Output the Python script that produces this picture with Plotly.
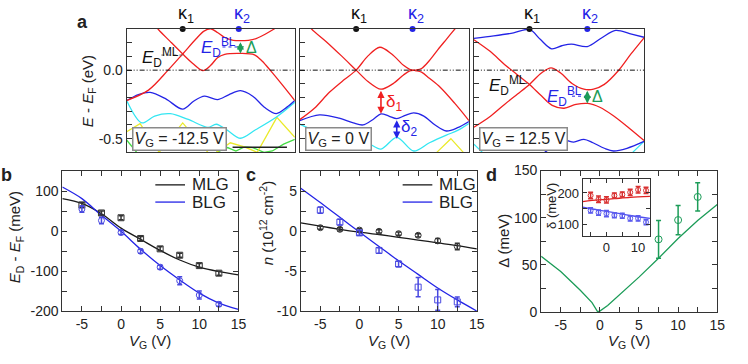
import plotly.graph_objects as go

# ====================== DATA ======================
# Panel a: band structures along the k-path (kappa1 at k=1, kappa2 at k=2), energy E-EF in eV
vg_texts = ["-12.5", "0", "12.5"]

# --- VG = -12.5 V ---
a1_r1_k = [0, 0.39, 0.74, 1.0, 1.24, 1.38, 1.50, 1.62, 1.75, 1.90, 2.03, 2.17, 2.32, 2.47, 2.63, 2.78]
a1_r1_E = [-0.222, -0.146, 0.0, 0.118, 0.229, 0.285, 0.302, 0.275, 0.238, 0.218, 0.215, 0.218, 0.232, 0.262, 0.30, 0.34]
a1_r2_k = [0.49, 0.56, 0.78, 1.0, 1.18, 1.36, 1.50, 1.62, 1.75, 2.03, 2.28, 2.42, 2.56, 2.77, 3.0]
a1_r2_E = [0.34, 0.30, 0.208, 0.118, 0.049, -0.003, 0.035, 0.09, 0.115, 0.122, 0.112, 0.065, 0.0, -0.104, -0.222]
a1_b_k = [0, 0.21, 0.42, 0.70, 1.0, 1.20, 1.39, 1.62, 1.82, 2.03, 2.25, 2.47, 2.67, 2.86, 3.0]
a1_b_E = [-0.222, -0.178, -0.162, -0.21, -0.285, -0.225, -0.19, -0.215, -0.18, -0.15, -0.19, -0.275, -0.317, -0.27, -0.222]
a1_c_k = [0, 0.27, 0.5, 0.78, 1.1, 1.45, 1.6, 1.8, 2.03, 2.3, 2.68, 3.0]
a1_c_E = [-0.222, -0.385, -0.335, -0.318, -0.36, -0.417, -0.395, -0.44, -0.497, -0.435, -0.34, -0.235]
a1_y_k = [0, 0.24, 0.58, 1.0, 1.45, None, 1.6, 1.85, 2.1, 2.33, 2.68, 3.0]
a1_y_E = [-0.45, -0.39, -0.60, -0.385, -0.60, None, -0.60, -0.53, -0.56, -0.60, -0.345, -0.49]
a1_g_k = [0, 0.18, None, 1.6, 1.8, 1.95, 2.1, 2.25, 2.45, 2.6, 2.8, 3.0]
a1_g_E = [-0.51, -0.60, None, -0.60, -0.565, -0.59, -0.56, -0.565, -0.60, -0.59, -0.54, -0.505]
a1_bar_k = [1.89, 2.86]
a1_bar_E = [-0.5625, -0.5625]

# --- VG = 0 V ---
a2_r1_k = [0.14, 0.21, 0.47, 0.74, 1.0, 1.21, 1.44, 1.65, 1.84, 1.95, 2.05, 2.16, 2.3, 2.45, 2.6, 2.75, 2.84]
a2_r1_E = [0.34, 0.30, 0.208, 0.104, 0.0, -0.083, -0.139, -0.10, -0.035, -0.006, 0.0, 0.012, 0.07, 0.15, 0.225, 0.30, 0.345]
a2_r2_k = [0, 0.26, 0.53, 0.79, 1.0, 1.21, 1.42, 1.63, 1.84, 1.95, 2.05, 2.16, 2.3, 2.49, 2.75, 3.0]
a2_r2_E = [-0.361, -0.278, -0.16, -0.069, 0.0, 0.104, 0.167, 0.118, 0.035, 0.006, -0.003, -0.015, -0.06, -0.125, -0.243, -0.368]
a2_b_k = [0, 0.35, 0.70, 0.95, 1.12, 1.30, 1.44, 1.58, 1.72, 1.87, 2.02, 2.2, 2.4, 2.6, 2.8, 3.0]
a2_b_E = [-0.368, -0.326, -0.35, -0.385, -0.40, -0.36, -0.319, -0.335, -0.354, -0.33, -0.3125, -0.335, -0.40, -0.444, -0.42, -0.375]
a2_c_k = [0, 0.25, 0.6, 1.0, 1.2, 1.44, 1.72, 2.02, 2.3, 2.6, 2.8, 3.0]
a2_c_E = [-0.394, -0.44, -0.48, -0.51, -0.53, -0.576, -0.49, -0.59, -0.53, -0.474, -0.44, -0.39]
a2_y_k = [2.43, 2.68, 2.9]
a2_y_E = [-0.60, -0.50, -0.60]

# --- VG = 12.5 V ---
a3_bt_k = [0, 0.35, 0.7, 0.98, 1.17, 1.37, 1.55, 1.72, 2.0, 2.25, 2.5, 2.78, 3.0]
a3_bt_E = [0.232, 0.25, 0.272, 0.297, 0.225, 0.156, 0.178, 0.19, 0.172, 0.235, 0.29, 0.262, 0.24]
a3_r1_k = [0, 0.28, 0.54, 0.77, 0.98, 1.19, 1.38, 1.59, 1.80, 2.01, 2.22, 2.46, 2.74, 3.0]
a3_r1_E = [0.222, 0.139, 0.042, -0.035, -0.104, -0.1875, -0.257, -0.278, -0.25, -0.243, -0.271, -0.333, -0.424, -0.514]
a3_r2_k = [0, 0.28, 0.54, 0.77, 0.98, 1.19, 1.36, 1.53, 1.73, 1.94, 2.11, 2.30, 2.55, 2.77, 3.0]
a3_r2_E = [-0.417, -0.340, -0.25, -0.174, -0.104, -0.021, 0.017, -0.021, -0.097, -0.139, -0.139, -0.104, -0.003, 0.118, 0.236]
a3_bl_k = [1.25, 1.45, 1.59, 1.76, 1.94, 2.1, 2.3, 2.46, 2.7, 3.0]
a3_bl_E = [-0.60, -0.54, -0.51, -0.525, -0.505, -0.53, -0.57, -0.59, -0.57, -0.52]
a3_c_k = [0, 0.15, None, 2.8, 3.0]
a3_c_E = [-0.54, -0.60, None, -0.60, -0.52]

# Dirac-point guide lines (k range, energy)
a1_edml_k, a1_edml_E = [0.62, 1.0], [0.11, 0.11]
a1_edbl_k, a1_edbl_E = [1.71, 2.03], [0.169, 0.169]
a3_edml_k, a3_edml_E = [0.68, 0.98], [-0.097, -0.097]
a3_edbl_k, a3_edbl_E = [1.73, 2.0], [-0.19, -0.19]

# gaps: (k, E_top, E_bottom)
a1_gap = [2.03, 0.215, 0.122]
a2_gap1 = [1.44, -0.139, -0.319]
a2_gap2 = [1.72, -0.355, -0.50]
a3_gap = [2.0, -0.139, -0.243]

# Panel b / c : gate voltage, measured and model
vg_pts = [-5, -2.5, 0, 2.5, 5, 7.5, 10, 12.5]
vg_fit = [-7.5, -5, -2.5, 0, 2.5, 5, 7.5, 10, 12.5, 15]

b_mlg = [66, 46, 34, -18, -44, -60, -86, -105]
b_mlg_err = [6, 5, 5, 5, 5, 5, 5, 5]
b_blg = [56, 27, -3, -50, -90, -124, -160, -183]
b_blg_err = [8, 8, 5, 5, 5, 10, 10, 5]
b_mlg_fit = [82, 70, 44, 8, -20, -48, -72, -90, -101, -109]
b_blg_fit = [111, 82, 40, 0, -45, -86, -122, -155, -180, -196]

c_mlg = [0.45, 0.25, 0.15, 0.0, -0.3, -0.5, -1.2, -1.9]
c_mlg_err = [0.2, 0.2, 0.2, 0.2, 0.2, 0.2, 0.3, 0.4]
c_blg = [2.65, 1.15, -0.2, -2.4, -4.1, -7.0, -8.6, -8.85]
c_blg_err = [0.4, 0.35, 0.3, 0.35, 0.35, 1.2, 1.3, 0.6]
c_mlg_fit = [1.05, 0.65, 0.25, -0.1, -0.4, -0.75, -1.1, -1.45, -1.8, -2.2]
c_blg_fit = [5.4, 3.6, 1.75, -0.1, -1.9, -3.7, -5.4, -7.1, -8.6, -10.0]

# Panel d: gap Delta
d_fit_x = [-7.5, -5, -2.5, -1, -0.3, 0, 1, 2.5, 5, 7.5, 10, 12.5, 15]
d_fit = [59, 43, 23, 10, 0.5, 1, 7, 18, 37, 57, 78, 97, 114]
d_pts_x = [7.5, 10, 12.5]
d_pts = [77, 97.5, 122]
d_pts_err = [20, 15.5, 15]

# Inset: delta1 (red), delta2 (blue)
in_fit_x = [-7.5, -2.5, 2.5, 7.5, 13.75]
in_d1 = [192, 180, 178, 192, 195, 202, 210, 208]
in_d1_err = [10, 10, 10, 8, 8, 10, 10, 10]
in_d2 = [145, 138, 135, 130, 128, 120, 120, 108]
in_d2_err = [8, 8, 10, 8, 8, 8, 8, 8]
in_d1_fit = [173, 178, 182, 186, 189]
in_d2_fit = [155, 146, 138, 129, 120]

# tick labels (plain hyphen minus as in the reference)
vg_ticks = [-5, 0, 5, 10, 15]
b_ticks = [-200, -100, 0, 100]
c_ticks = [-10, -5, 0, 5]
d_ticks = [0, 50, 100, 150]
in_xticks = [0, 10]
in_yticks = [100, 200]
a_ticks = [0.0, -0.5]

# ====================== STYLE ======================
FONT = "Liberation Sans, Arial, Helvetica, sans-serif"
RED = "#f02020"
BLUE = "#2424e6"
CYAN = "#33e6f2"
YELLOW = "#eaea2a"
GREEN = "#44dd44"
DGREEN = "#1c9c58"
AX = "#333333"
W, H = 748, 364

def px(x):
    return x / W

def py(y):
    return 1 - y / H

def lbl(v, fmt="{:g}"):
    return [fmt.format(t) for t in v]

fig = go.Figure()

def line(k, E, color, n, width=1.3, shape="spline", dash=None):
    fig.add_trace(go.Scatter(
        x=k, y=E, mode="lines", xaxis=f"x{n}" if n > 1 else "x", yaxis=f"y{n}" if n > 1 else "y",
        line=dict(color=color, width=width, shape=shape, smoothing=0.9, dash=dash),
        showlegend=False, hoverinfo="skip", connectgaps=False))

# panel a traces (draw lower bands first)
line(a1_g_k, a1_g_E, GREEN, 1, shape="linear")
line(a1_y_k, a1_y_E, YELLOW, 1, shape="linear")
line(a1_c_k, a1_c_E, CYAN, 1)
line(a1_b_k, a1_b_E, BLUE, 1)
line(a1_r1_k, a1_r1_E, RED, 1)
line(a1_r2_k, a1_r2_E, RED, 1)
line(a1_bar_k, a1_bar_E, "#222222", 1, width=1.6, shape="linear")

line(a2_y_k, a2_y_E, YELLOW, 2, shape="linear")
line(a2_c_k, a2_c_E, CYAN, 2)
line(a2_b_k, a2_b_E, BLUE, 2)
line(a2_r1_k, a2_r1_E, RED, 2)
line(a2_r2_k, a2_r2_E, RED, 2)

line(a3_c_k, a3_c_E, CYAN, 3, shape="linear")
line(a3_bl_k, a3_bl_E, BLUE, 3)
line(a3_bt_k, a3_bt_E, BLUE, 3)
line(a3_r1_k, a3_r1_E, RED, 3)
line(a3_r2_k, a3_r2_E, RED, 3)

line(a1_edml_k, a1_edml_E, "#666666", 1, width=1, shape="linear", dash="dot")
line(a1_edbl_k, a1_edbl_E, BLUE, 1, width=1, shape="linear", dash="dot")
line(a3_edml_k, a3_edml_E, "#666666", 3, width=1, shape="linear", dash="dot")
line(a3_edbl_k, a3_edbl_E, BLUE, 3, width=1, shape="linear", dash="dot")

# kappa markers
for n in (1, 2, 3):
    kk = [0.98, 2.0] if n == 3 else [1.0, 2.0]
    fig.add_trace(go.Scatter(x=kk, y=[0.3, 0.3], mode="markers", cliponaxis=False,
                             xaxis=f"x{n}" if n > 1 else "x", yaxis=f"y{n}" if n > 1 else "y",
                             marker=dict(color=["#111111", BLUE], size=6), showlegend=False, hoverinfo="skip"))

def pts(x, y, err, color, symbol, n, size=6):
    fig.add_trace(go.Scatter(x=x, y=y, mode="markers", xaxis=f"x{n}", yaxis=f"y{n}",
                             error_y=dict(type="data", array=err, color=color, thickness=1.5, width=2.5),
                             marker=dict(symbol=symbol, size=size, color=color, line=dict(width=1, color=color)),
                             showlegend=False, hoverinfo="skip", cliponaxis=False))

line(vg_fit, b_mlg_fit, "#1a1a1a", 4, width=1.3)
line(vg_fit, b_blg_fit, BLUE, 4, width=1.3)
pts(vg_pts, b_mlg, b_mlg_err, "#333333", "square-open", 4)
pts(vg_pts, b_blg, b_blg_err, "#4848e0", "circle-open", 4)

line(vg_fit, c_mlg_fit, "#1a1a1a", 5, width=1.3)
line(vg_fit, c_blg_fit, BLUE, 5, width=1.3)
pts(vg_pts, c_mlg, c_mlg_err, "#333333", "circle-open", 5)
pts(vg_pts, c_blg, c_blg_err, "#4848e0", "square-open", 5)

line(d_fit_x, d_fit, DGREEN, 6, width=1.3, shape="linear")
pts(d_pts_x, d_pts, d_pts_err, DGREEN, "circle-open", 6, size=7)

line(in_fit_x, in_d1_fit, "#e02020", 7, width=1.3)
line(in_fit_x, in_d2_fit, "#5050f0", 7, width=1.3)
pts(vg_pts, in_d1, in_d1_err, "#d83030", "circle-open", 7, size=5)
pts(vg_pts, in_d2, in_d2_err, "#5a5aee", "circle-open", 7, size=5)

# ====================== AXES ======================
base = dict(showgrid=False, zeroline=False, showline=True, linecolor=AX, linewidth=1,
            tickfont=dict(family=FONT, size=14, color="#222"), ticklen=5, tickcolor=AX)

def minor(dt, ln=5):
    return dict(dtick=dt, tick0=0, ticks="inside", ticklen=ln, tickcolor=AX)

a_x = [(128, 298), (303, 474), (479, 651)]
layout = {}
for i, (l, r) in enumerate(a_x):
    n = "" if i == 0 else str(i + 1)
    layout[f"xaxis{n}"] = dict(base, domain=[px(l), px(r)], range=[0, 3], showticklabels=False,
                               ticks="", mirror=True, anchor=f"y{n}")
    layout[f"yaxis{n}"] = dict(base, domain=[py(151), py(22)], range=[-0.6, 0.3], mirror=True,
                               anchor=f"x{n}", tickmode="array", tickvals=a_ticks,
                               ticktext=lbl(a_ticks, "{:.1f}"), showticklabels=(i == 0), ticks="inside",
                               minor=minor(0.1))

vg_axis = dict(base, range=[-7.5, 15], tickmode="array", tickvals=vg_ticks, ticktext=lbl(vg_ticks),
               ticks="inside", mirror="ticks", minor=minor(2.5))
layout["xaxis4"] = dict(vg_axis, domain=[px(63), px(241)], anchor="y4")
layout["yaxis4"] = dict(base, domain=[py(317), py(171)], range=[-200, 150], tickmode="array",
                        tickvals=b_ticks, ticktext=lbl(b_ticks),
                        ticks="inside", mirror="ticks", anchor="x4", minor=minor(50))
layout["xaxis5"] = dict(vg_axis, domain=[px(304), px(482)], anchor="y5")
layout["yaxis5"] = dict(base, domain=[py(317), py(171)], range=[-10, 7.5], tickmode="array",
                        tickvals=c_ticks, ticktext=lbl(c_ticks),
                        ticks="inside", mirror="ticks", anchor="x5", minor=minor(2.5))
layout["xaxis6"] = dict(vg_axis, domain=[px(547), px(725)], anchor="y6")
layout["yaxis6"] = dict(base, domain=[py(318), py(170)], range=[0, 150], tickmode="array",
                        tickvals=d_ticks, ticktext=lbl(d_ticks),
                        ticks="inside", mirror="ticks", anchor="x6", minor=minor(25))
layout["xaxis7"] = dict(base, domain=[px(589), px(657)], range=[-7.5, 13.75], tickmode="array",
                        tickvals=in_xticks, ticktext=lbl(in_xticks),
                        ticks="inside", mirror="ticks", anchor="y7", ticklen=4,
                        tickfont=dict(family=FONT, size=13, color="#222"), minor=minor(5, 4))
layout["yaxis7"] = dict(base, domain=[py(238.3), py(178.5)], range=[65, 245], tickmode="array",
                        tickvals=in_yticks, ticktext=lbl(in_yticks),
                        ticks="inside", mirror="ticks", anchor="x7", ticklen=4,
                        tickfont=dict(family=FONT, size=13, color="#222"), minor=minor(50, 4))

# ====================== ANNOTATIONS ======================
ann = []
shapes = []

def pa(text, x, y, size=15, color="#222", angle=0, bold=False, xanchor="center", yanchor="middle"):
    ann.append(dict(text=f"<b>{text}</b>" if bold else text, x=px(x), y=py(y), xref="paper", yref="paper",
                    showarrow=False, textangle=angle, xanchor=xanchor, yanchor=yanchor,
                    font=dict(family=FONT, size=size, color=color)))

# panel letters
pa("a", 83, 15, size=18, bold=True)
pa("b", 7, 175, size=18, bold=True)
pa("c", 254, 175, size=18, bold=True)
pa("d", 497, 175, size=18, bold=True)

# axis titles
pa("<i>E</i> - <i>E</i><sub>F</sub> (eV)", 89, 87, angle=-90)
pa("<i>E</i><sub>D</sub> - <i>E</i><sub>F</sub> (meV)", 16, 240, angle=-90)
pa("<i>n</i> (10<sup>12</sup> cm<sup>-2</sup>)", 269, 225, angle=-90)
pa("Δ (meV)", 509, 244, angle=-90)
pa("δ (meV)", 558, 207, size=13, angle=-90)
for cx in (152, 393, 636):
    pa("<i>V</i><sub>G</sub> (V)", cx, 349)

# legends b, c
for x0 in (157, 407):
    shapes.append(dict(type="line", xref="paper", yref="paper", x0=px(x0), x1=px(x0 + 30),
                       y0=py(185), y1=py(185), line=dict(color="#1a1a1a", width=1.3)))
    shapes.append(dict(type="line", xref="paper", yref="paper", x0=px(x0), x1=px(x0 + 30),
                       y0=py(203), y1=py(203), line=dict(color=BLUE, width=1.3)))
    pa("MLG", x0 + 35, 185, size=17, xanchor="left")
    pa("BLG", x0 + 35, 203, size=17, xanchor="left")

def da(text, n, x, y, color, size=17, xanchor="left"):
    ann.append(dict(text=text, x=x, y=y, xref=f"x{n}" if n > 1 else "x", yref=f"y{n}" if n > 1 else "y",
                    showarrow=False, xanchor=xanchor, yanchor="middle",
                    font=dict(family=FONT, size=size, color=color)))

def arrow(n, gap, color):
    k, e1, e2 = gap
    xr = f"x{n}" if n > 1 else "x"
    yr = f"y{n}" if n > 1 else "y"
    ann.append(dict(x=k, y=e2, ax=k, ay=e1, xref=xr, yref=yr, axref=xr, ayref=yr, text="",
                    showarrow=True, arrowhead=2, startarrowhead=2, arrowside="end+start",
                    arrowsize=0.9, startarrowsize=0.9, arrowwidth=1.6, arrowcolor=color))

# kappa labels
for n, kk in ((1, (1.0, 2.0)), (2, (1.0, 2.0)), (3, (0.98, 2.0))):
    xr = f"x{n}" if n > 1 else "x"
    yr = f"y{n}" if n > 1 else "y"
    for j, k in enumerate(kk):
        ann.append(dict(text=f"κ<sub>{j+1}</sub>", x=k, y=0.3, xref=xr, yref=yr, showarrow=False,
                        xanchor="center", yanchor="bottom", yshift=1, xshift=3,
                        font=dict(family=FONT, size=18, color="#111" if j == 0 else BLUE)))

da("<i>E</i><sub>D</sub><sup>ML</sup>", 1, 0.23, 0.095, "#111")
da("<i>E</i><sub>D</sub><sup>BL</sup>", 1, 1.29, 0.165, BLUE)
da("Δ", 1, 2.1, 0.165, DGREEN, size=16)
arrow(1, a1_gap, DGREEN)

da("δ<sub>1</sub>", 2, 1.49, -0.24, RED)
da("δ<sub>2</sub>", 2, 1.76, -0.425, BLUE)
arrow(2, a2_gap1, RED)
arrow(2, a2_gap2, BLUE)

da("<i>E</i><sub>D</sub><sup>ML</sup>", 3, 0.24, -0.11, "#111")
da("<i>E</i><sub>D</sub><sup>BL</sup>", 3, 1.26, -0.195, BLUE)
da("Δ", 3, 2.05, -0.19, DGREEN, size=16)
arrow(3, a3_gap, DGREEN)

# VG boxes
for i, t in enumerate(vg_texts):
    n = "" if i == 0 else str(i + 1)
    ann.append(dict(text=f"<i>V</i><sub>G</sub> = {t} V", x=0.03, y=0.015, xref=f"x{n} domain",
                    yref=f"y{n} domain", xanchor="left", yanchor="bottom", showarrow=False,
                    bgcolor="white", bordercolor="#8a8a8a", borderwidth=1.5, borderpad=1,
                    font=dict(family=FONT, size=16, color="#222")))

# Fermi level dash-dot-dot lines
for i in range(3):
    n = "" if i == 0 else str(i + 1)
    shapes.append(dict(type="line", xref=f"x{n} domain", yref=f"y{n}", x0=0, x1=1, y0=0, y1=0,
                       line=dict(color="#111", width=1, dash="5px,2px,1px,2px,1px,2px")))

fig.update_layout(**layout)
fig.update_layout(width=W, height=H, margin=dict(l=0, r=0, t=0, b=0), paper_bgcolor="white",
                  plot_bgcolor="white", showlegend=False, annotations=ann, shapes=shapes,
                  font=dict(family=FONT, size=14, color="#222"))
fig.write_html("out.html", config={"displayModeBar": False},
               post_script="document.body.style.margin='0px';document.body.style.overflow='hidden';")
